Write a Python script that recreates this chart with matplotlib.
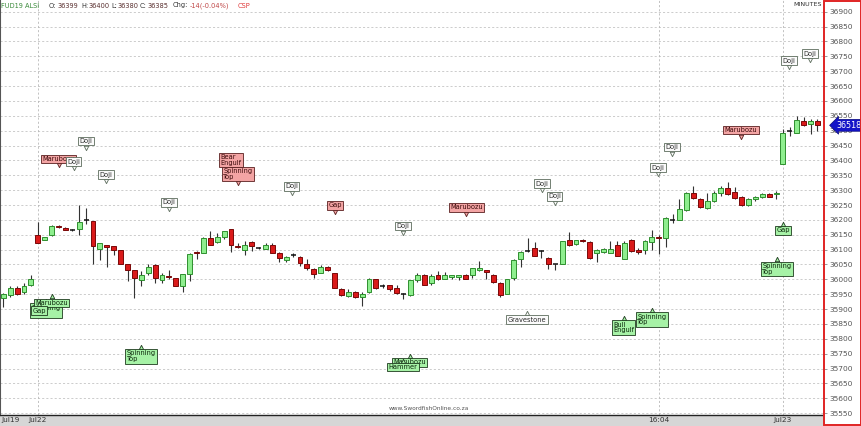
import matplotlib
matplotlib.use("Agg")
import matplotlib.pyplot as plt
import matplotlib.transforms as mtrans
from matplotlib.patches import Rectangle

# ---------------- data ----------------
opens = [35936, 35947, 35972, 35959, 35980, 36150, 36133, 36150, 36181, 36174,
         36167, 36169, 36200, 36197, 36102, 36117, 36111, 36100, 36050, 36033,
         35998, 36022, 36048, 35998, 36011, 36003, 35976, 36017, 36092, 36089,
         36139, 36126, 36141, 36169, 36113, 36100, 36124, 36105, 36103, 36117,
         36089, 36064, 36081, 36074, 36053, 36036, 36022, 36041, 36022, 35969,
         35944, 35958, 35939, 35956, 36000, 35976, 35980, 35972, 35952, 35947,
         35998, 36016, 35987, 36014, 36002, 36009, 36009, 36014, 36013, 36031,
         36033, 36013, 35989, 35950, 36006, 36070, 36095, 36106, 36095, 36072,
         36050, 36052, 36131, 36120, 36133, 36126, 36089, 36091, 36089, 36114,
         36070, 36133, 36100, 36098, 36126, 36141, 36139, 36200, 36200, 36233,
         36289, 36269, 36239, 36264, 36289, 36306, 36294, 36278, 36250, 36269,
         36278, 36286, 36287, 36389, 36500, 36492, 36531, 36522, 36531]
highs = [35955, 35978, 35976, 35987, 36013, 36194, 36144, 36183, 36182, 36176,
         36170, 36250, 36239, 36197, 36122, 36117, 36113, 36100, 36050, 36033,
         36028, 36050, 36050, 36022, 36033, 36006, 36017, 36089, 36094, 36144,
         36161, 36156, 36163, 36169, 36122, 36128, 36128, 36108, 36122, 36122,
         36091, 36078, 36087, 36078, 36067, 36039, 36047, 36044, 36022, 35972,
         35969, 35960, 35956, 36006, 36002, 35983, 35981, 35980, 35953, 35998,
         36020, 36017, 36017, 36028, 36024, 36014, 36014, 36017, 36039, 36063,
         36033, 36017, 35991, 36002, 36069, 36096, 36140, 36127, 36098, 36076,
         36050, 36130, 36158, 36133, 36136, 36128, 36102, 36105, 36128, 36130,
         36130, 36135, 36106, 36133, 36167, 36150, 36208, 36219, 36270, 36294,
         36313, 36272, 36289, 36298, 36313, 36328, 36311, 36280, 36272, 36280,
         36289, 36292, 36297, 36506, 36511, 36550, 36547, 36539, 36539]
lows = [35906, 35939, 35947, 35952, 35978, 36122, 36131, 36147, 36174, 36165,
        36164, 36150, 36186, 36050, 36064, 36042, 36083, 36050, 35994, 35936,
        35976, 36013, 35989, 35989, 36000, 35976, 35958, 35994, 36069, 36089,
        36117, 36122, 36136, 36092, 36106, 36083, 36097, 36103, 36102, 36087,
        36058, 36058, 36076, 36044, 36033, 36006, 36020, 36028, 35972, 35944,
        35939, 35937, 35911, 35953, 35969, 35970, 35961, 35950, 35933, 35944,
        35991, 35980, 35981, 35998, 36000, 36000, 35998, 36000, 36006, 36028,
        36000, 35989, 35939, 35950, 35998, 36041, 36092, 36078, 36072, 36036,
        36033, 36050, 36113, 36117, 36126, 36070, 36058, 36089, 36087, 36078,
        36070, 36091, 36086, 36086, 36098, 36086, 36109, 36191, 36198, 36231,
        36270, 36241, 36237, 36261, 36280, 36283, 36269, 36248, 36247, 36263,
        36272, 36276, 36269, 36389, 36483, 36492, 36517, 36489, 36498]
closes = [35952, 35972, 35952, 35976, 36002, 36122, 36142, 36180, 36176, 36167,
          36167, 36194, 36200, 36113, 36122, 36109, 36100, 36050, 36033, 36006,
          36014, 36042, 36003, 36013, 36009, 35978, 36017, 36086, 36087, 36139,
          36117, 36141, 36161, 36117, 36109, 36117, 36111, 36105, 36114, 36089,
          36072, 36076, 36081, 36056, 36037, 36017, 36042, 36030, 35972, 35947,
          35958, 35939, 35952, 36000, 35970, 35976, 35967, 35953, 35952, 35997,
          36016, 35981, 36011, 36000, 36016, 36014, 36014, 36002, 36037, 36039,
          36024, 35992, 35947, 36000, 36064, 36091, 36095, 36078, 36095, 36050,
          36050, 36128, 36117, 36131, 36128, 36072, 36098, 36102, 36103, 36080,
          36122, 36094, 36091, 36128, 36141, 36138, 36206, 36200, 36236, 36292,
          36272, 36244, 36263, 36292, 36306, 36287, 36272, 36250, 36269, 36278,
          36286, 36278, 36289, 36491, 36500, 36536, 36520, 36531, 36518]

x_tick_pos = [1.0, 5, 95, 113]
x_tick_labels = ["Jul19", "Jul22", "16:04", "Jul23"]
y_ticks = list(range(35550, 36901, 50))
last_price = 36518

callout_texts = ["Marubozu", "Doji", "Doji", "Doji", "Doji", "Bear\nEngulf", "Spinning\nTop",
                 "Doji", "Gap", "Doji", "Marubozu", "Doji", "Doji", "Doji", "Doji",
                 "Marubozu", "Doji", "Doji",
                 "Spinning\nTop", "Marubozu", "Gap", "Spinning\nTop", "Marubozu", "Hammer",
                 "Gravestone", "Bull\nEngulf", "Spinning\nTop", "Spinning\nTop", "Gap"]
callout_kind = ["bear", "neutral", "neutral", "neutral", "neutral", "bear", "bear",
                "neutral", "bear", "neutral", "bear", "neutral", "neutral", "neutral", "neutral",
                "bear", "neutral", "neutral",
                "bull", "bull", "bull", "bull", "bull", "bull",
                "neutral", "bull", "bull", "bull", "bull"]

# ---------------- layout ----------------
W, H = 862, 426
fig = plt.figure(figsize=(W / 100, H / 100), dpi=100)
fig.patch.set_facecolor("white")
ax = fig.add_axes([0 / W, 11 / H, 823 / W, 415 / H])
ax.set_facecolor("white")

ax.set_xlim(-0.48, 118.8)
ax.set_ylim(35543.9, 36939.3)

# grid
for v in y_ticks:
    ax.axhline(v, color="#c4c4c4", lw=0.6, ls=(0, (2.5, 2.5)), zorder=0)
for xv in x_tick_pos[1:]:
    ax.axvline(xv, color="#b8b8b8", lw=0.6, ls=(0, (2.5, 2.5)), zorder=0)

# candles
g_fill, g_edge = "#8eee8e", "#2f8f2f"
r_fill, r_edge = "#da1a1a", "#7a0808"
bw = 0.72
for i, (o, h, l, c) in enumerate(zip(opens, highs, lows, closes)):
    ax.vlines(i, l, h, color="#333333", lw=0.8, zorder=2)
    if c > o:
        ax.bar(i, c - o, bottom=o, width=bw, color=g_fill, edgecolor=g_edge, lw=0.7, zorder=3)
    elif c < o:
        ax.bar(i, o - c, bottom=c, width=bw, color=r_fill, edgecolor=r_edge, lw=0.7, zorder=3)
    else:
        ax.hlines(c, i - bw / 2, i + bw / 2, color="#111111", lw=1.1, zorder=3)

# callouts (anchor positions are layout)
anchors = [(8.0, 36383, "up"), (10.2, 36373, "up"), (12.0, 36443, "up"), (14.9, 36330, "up"),
           (24.0, 36237, "up"), (33.0, 36370, "up"), (34.0, 36323, "up"), (41.8, 36290, "up"),
           (48.1, 36227, "up"), (57.9, 36157, "up"), (67.1, 36220, "up"), (78.1, 36300, "up"),
           (79.9, 36257, "up"), (94.9, 36353, "up"), (96.9, 36423, "up"), (106.9, 36480, "up"),
           (113.9, 36713, "up"), (116.9, 36737, "up"),
           (6.2, 35927, "down"), (7.0, 35943, "down"), (5.2, 35917, "down"),
           (20.0, 35773, "down"), (58.9, 35743, "down"), (57.9, 35727, "down"),
           (75.9, 35887, "down"), (89.9, 35870, "down"), (94.0, 35897, "down"),
           (112.1, 36067, "down"), (113.0, 36187, "down")]
styles = {"bear": ("#f3a4a4", "#5a2020", "#3a0a0a"),
          "bull": ("#a6f2a6", "#1e3a1e", "#0a250a"),
          "neutral": ("#fbfbfb", "#5c6c5c", "#2a2a2a")}
for k, (txt, kind) in enumerate(zip(callout_texts, callout_kind)):
    xa, ya, side = anchors[k]
    fc, ec, tc = styles[kind]
    z = 6 + k * 0.01
    if side == "up":
        ax.plot(xa, ya, marker="v", ms=3.2, mfc=fc, mec=ec, mew=0.6, zorder=z - 0.005)
        ax.annotate(txt, xy=(xa, ya), xytext=(0, 2.6), textcoords="offset points",
                    ha="center", va="bottom", fontsize=4.8, color=tc, linespacing=0.95,
                    multialignment="left", zorder=z,
                    bbox=dict(boxstyle="square,pad=0.2", fc=fc, ec=ec, lw=0.6))
    else:
        ax.plot(xa, ya, marker="^", ms=3.2, mfc=fc, mec=ec, mew=0.6, zorder=z - 0.005)
        ax.annotate(txt, xy=(xa, ya), xytext=(0, -2.6), textcoords="offset points",
                    ha="center", va="top", fontsize=4.8, color=tc, linespacing=0.95,
                    multialignment="left", zorder=z,
                    bbox=dict(boxstyle="square,pad=0.2", fc=fc, ec=ec, lw=0.6))

# axes styling
for s in ["top", "right"]:
    ax.spines[s].set_visible(False)
ax.spines["left"].set_color("#555555")
ax.spines["left"].set_linewidth(1.5)
ax.spines["bottom"].set_color("#222222")
ax.spines["bottom"].set_linewidth(1.0)

ax.set_xticks(x_tick_pos)
ax.set_xticklabels(x_tick_labels)
ax.tick_params(axis="x", length=0, pad=1.2, labelsize=5.3, labelcolor="#333333")
ax.yaxis.tick_right()
ax.set_yticks(y_ticks)
ax.set_yticklabels([str(v) for v in y_ticks])
ax.tick_params(axis="y", length=3, width=0.6, color="#888888", pad=1.5,
               labelsize=5.4, labelcolor="#555555")

# x-axis band
fig.add_artist(Rectangle((0, 0), 823 / W, 11 / H, transform=fig.transFigure,
                         fc="#d6d6d6", ec="none", zorder=-1))
# right axis red frame
fig.add_artist(Rectangle((824 / W, 0.8 / H), 37 / W, 424.5 / H, transform=fig.transFigure,
                         fill=False, ec="#e02424", lw=1.4, zorder=5))

# last price tag
trans = mtrans.blended_transform_factory(ax.transAxes, ax.transData)
ax.text(1 + 13 / 823, last_price, str(last_price), transform=trans, ha="left", va="center",
        fontsize=5.8, color="white", clip_on=False, zorder=20,
        bbox=dict(boxstyle="larrow,pad=0.18", fc="#1414c8", ec="#0a0a7a", lw=0.5))

# header
def ftext(px, txt, color, size=4.8):
    fig.text(px / W, 1 - 5.5 / H, txt, fontsize=size, color=color, ha="left", va="center")

ftext(1, "FUD19 ALSI", "#3a8a3a")
ftext(49, "O:", "#333333")
ftext(57.5, "36399", "#5a3030")
ftext(81, "H:", "#333333")
ftext(88.5, "36400", "#5a3030")
ftext(111.5, "L:", "#333333")
ftext(117.5, "36380", "#5a3030")
ftext(139.5, "C:", "#333333")
ftext(147.5, "36385", "#5a3030")
ftext(173, "Chg:", "#333333")
ftext(190, "-14(-0.04%)", "#c04848")
ftext(238, "CSP", "#e03c3c")
fig.text(822 / W, 1 - 5 / H, "MINUTES", fontsize=4.6, color="#333333", ha="right", va="center")
fig.text(429 / W, 1 - 409 / H, "www.SwordfishOnline.co.za", fontsize=4.2, color="#555555",
         ha="center", va="center")

fig.savefig("out.png", dpi=100, facecolor="white")
